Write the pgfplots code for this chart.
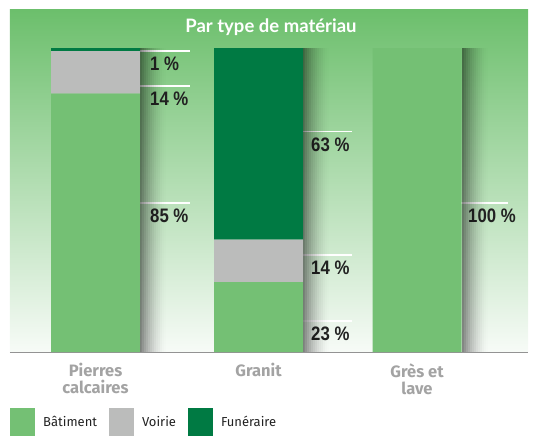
\documentclass[border=0pt]{standalone}
\usepackage{pgfplots}
\pgfplotsset{compat=1.18}
\usepackage{fontspec}
\setmainfont{Fira Sans}
\newfontfamily\lato{Lato}
\newfontfamily\cond[FakeStretch=0.86]{Liberation Sans}
\definecolor{bat}{HTML}{74C074}
\definecolor{voi}{HTML}{BBBCBB}
\definecolor{fun}{HTML}{007A43}
\definecolor{bgtop}{HTML}{6CBF6C}
\definecolor{bgbot}{HTML}{F7FBF7}
\definecolor{cat}{HTML}{A3A3A3}
\definecolor{txt}{HTML}{222222}
\newcommand\sstrip[3]{\fill[black, opacity=#3] ([xshift=#2pt]axis cs:#1,0) rectangle ([xshift=#2pt+2pt]axis cs:#1,100);}
\newcommand\shadow[1]{%
  \sstrip{#1}{0}{0.46}\sstrip{#1}{2}{0.40}\sstrip{#1}{4}{0.34}\sstrip{#1}{6}{0.29}%
  \sstrip{#1}{8}{0.24}\sstrip{#1}{10}{0.20}\sstrip{#1}{12}{0.16}\sstrip{#1}{14}{0.12}%
  \sstrip{#1}{16}{0.09}\sstrip{#1}{18}{0.065}\sstrip{#1}{20}{0.04}\sstrip{#1}{22}{0.02}%
  \sstrip{#1}{24}{0.008}}
\begin{document}
\begin{tikzpicture}[x=1pt,y=1pt]
\useasboundingbox (0,0) rectangle (534,437);
\begin{axis}[
  at={(10pt,85pt)}, anchor=south west,
  width=518pt, height=342pt, scale only axis,
  xmin=10, xmax=528, ymin=0, ymax=112.5,
  ybar stacked, bar width=89,
  hide y axis,
  axis x line*=bottom,
  x axis line style={draw=gray!85, line width=0.8pt, -},
  xtick={95.5,258.5,417},
  xticklabels={{Pierres\\calcaires},{Granit},{Grès et\\lave}},
  xticklabel style={align=center, font=\fontsize{16.5}{17}\selectfont\bfseries, text=cat, yshift=-8pt},
  major tick length=0pt,
  axis background/.style={top color=bgtop, bottom color=bgbot, draw=none},
  clip=false,
  legend style={at={(axis description cs:0,0)}, anchor=north west, yshift=-56pt,
    draw=none, fill=none, legend columns=3, inner sep=0pt,
    font=\fontsize{13}{15}\selectfont\color{txt},
    /tikz/every odd column/.append style={column sep=6pt},
    /tikz/every even column/.append style={column sep=10pt}},
  legend image code/.code={\fill[#1, draw=none] (0pt,-14pt) rectangle (25pt,14pt);},
]
% shadows
\shadow{140}
\shadow{303}
\shadow{461.5}
\addplot[fill=bat, draw=none] coordinates {(95.5,85) (258.5,23) (417,100)};
\addplot[fill=voi, draw=none] coordinates {(95.5,14) (258.5,14) (417,0)};
\addplot[fill=fun, draw=none] coordinates {(95.5,1) (258.5,63) (417,0)};
\legend{Bâtiment, Voirie, Funéraire}
% title
\node[font=\lato\bfseries\fontsize{18.5}{20}\selectfont, text=white] at (axis cs:271,106.8) {Par type de matériau};
% label lines
\tikzset{ll/.style={white, line width=1.1pt}}
\draw[ll] (axis cs:110,99.0) -- (axis cs:190,99.0);
\draw[ll] (axis cs:110,87.5) -- (axis cs:190,87.5);
\draw[ll] (axis cs:110,49.0) -- (axis cs:190,49.0);
\draw[ll] (axis cs:270,72.4) -- (axis cs:352,72.4);
\draw[ll] (axis cs:270,31.9) -- (axis cs:352,31.9);
\draw[ll] (axis cs:270,10.2) -- (axis cs:352,10.2);
\draw[ll] (axis cs:428,49.0) -- (axis cs:508,49.0);
% labels
\tikzset{pl/.style={anchor=north west, inner sep=0pt, yshift=-6pt, font=\cond\bfseries\fontsize{19.5}{20}\selectfont, text=txt}}
\node[pl] at (axis cs:150,99.0) {1 \%};
\node[pl] at (axis cs:150,87.5) {14 \%};
\node[pl] at (axis cs:150,49.0) {85 \%};
\node[pl] at (axis cs:311,72.4) {63 \%};
\node[pl] at (axis cs:311,31.9) {14 \%};
\node[pl] at (axis cs:311,10.2) {23 \%};
\node[pl] at (axis cs:468,49.0) {100 \%};
\end{axis}
\end{tikzpicture}
\end{document}
